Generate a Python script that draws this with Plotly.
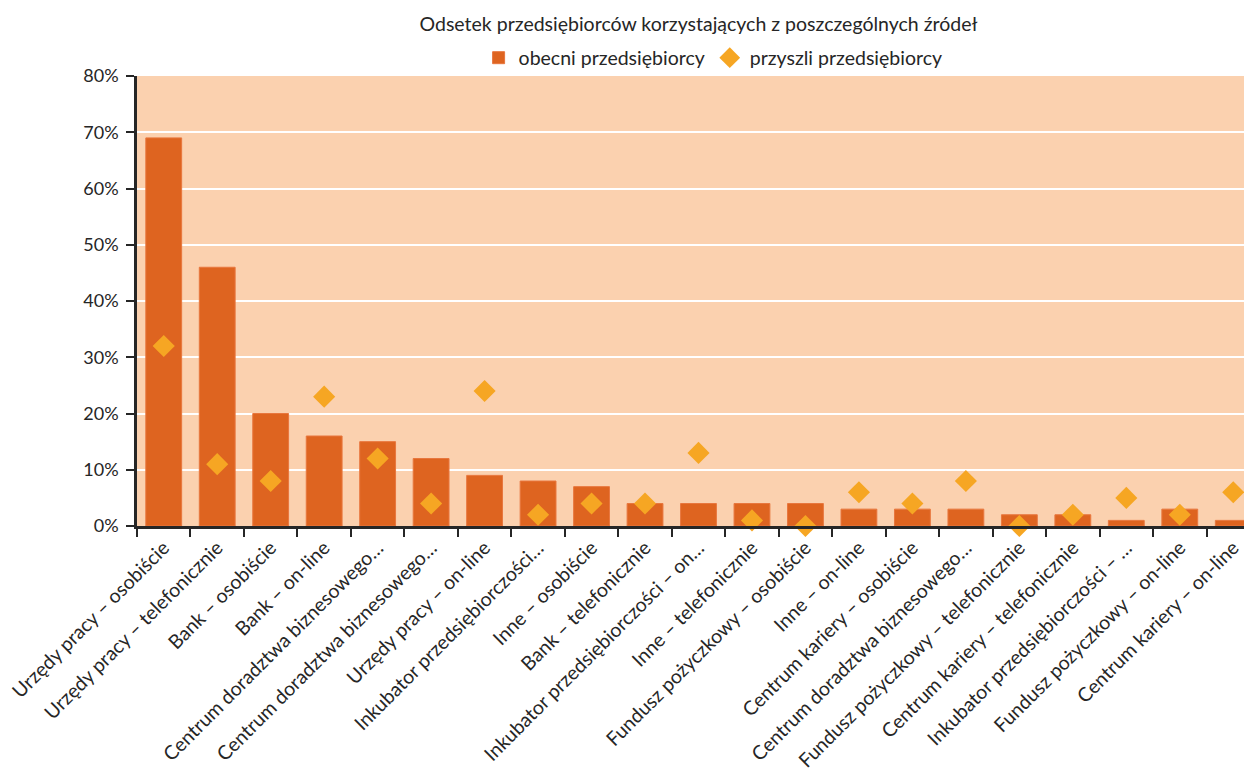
import plotly.graph_objects as go

categories = [
    "Urzędy pracy – osobiście",
    "Urzędy pracy – telefonicznie",
    "Bank – osobiście",
    "Bank – on-line",
    "Centrum doradztwa biznesowego…",
    "Centrum doradztwa biznesowego…\u200b",
    "Urzędy pracy – on-line",
    "Inkubator przedsiębiorczości…",
    "Inne – osobiście",
    "Bank – telefonicznie",
    "Inkubator przedsiębiorczości – on…",
    "Inne – telefonicznie",
    "Fundusz pożyczkowy – osobiście",
    "Inne – on-line",
    "Centrum kariery – osobiście",
    "Centrum doradztwa biznesowego…\u200b\u200b",
    "Fundusz pożyczkowy – telefonicznie",
    "Centrum kariery – telefonicznie",
    "Inkubator przedsiębiorczości – …",
    "Fundusz pożyczkowy – on-line",
    "Centrum kariery – on-line",
]
obecni = [0.69, 0.46, 0.20, 0.16, 0.15, 0.12, 0.09, 0.08, 0.07, 0.04, 0.04,
          0.04, 0.04, 0.03, 0.03, 0.03, 0.02, 0.02, 0.01, 0.03, 0.01]
przyszli = [0.32, 0.11, 0.08, 0.23, 0.12, 0.04, 0.24, 0.02, 0.04, 0.04, 0.13,
            0.01, 0.00, 0.06, 0.04, 0.08, 0.00, 0.02, 0.05, 0.02, 0.06]
y_ticks = [0, 0.1, 0.2, 0.3, 0.4, 0.5, 0.6, 0.7, 0.8]

FONT = "Lato"
TXT = "#262626"

fig = go.Figure()
fig.add_trace(go.Bar(
    x=categories, y=obecni, name="obecni przedsiębiorcy",
    marker=dict(color="#DE6420", line=dict(color="#E8773E", width=1)),
))
fig.add_trace(go.Scatter(
    x=categories, y=przyszli, name="przyszli przedsiębiorcy", mode="markers",
    marker=dict(symbol="diamond", size=17, color="#F6A623"),
    cliponaxis=False,
))

fig.update_layout(
    width=1252, height=769,
    margin=dict(l=129, r=0, t=68, b=251, autoexpand=False),
    paper_bgcolor="white",
    plot_bgcolor="#FBD1AF",
    font=dict(family=FONT, size=18, color=TXT),
    bargap=0.33,
    title=dict(
        text="Odsetek przedsiębiorców korzystających z poszczególnych źródeł",
        x=0.5, xref="paper", xanchor="center",
        y=1 - 16 / 769, yref="container", yanchor="middle",
        font=dict(family=FONT, size=19.5, color=TXT),
    ),
    legend=dict(
        orientation="h", x=0.513, xref="paper", xanchor="center",
        y=1 - 50 / 769, yref="container", yanchor="middle",
        font=dict(family=FONT, size=19.5, color=TXT),
        bgcolor="rgba(0,0,0,0)", itemwidth=30,
    ),
    showlegend=True,
)

fig.update_xaxes(
    type="category", range=[-0.5, len(categories) - 0.5],
    tickangle=-45, tickson="boundaries",
    ticks="outside", ticklen=8, tickcolor=TXT, tickwidth=1.5,
    showline=True, linecolor=TXT, linewidth=2.5,
    showgrid=False, automargin=False,
    tickfont=dict(family=FONT, size=19.5, color=TXT),
)
fig.update_yaxes(
    range=[0, 0.8], tickvals=y_ticks, tickformat=".0%",
    ticks="outside", ticklen=8, tickcolor=TXT, tickwidth=1.5,
    showline=True, linecolor=TXT, linewidth=2.5,
    showgrid=True, gridcolor="white", gridwidth=1.5,
    zeroline=False, automargin=False, ticklabelstandoff=4,
    tickfont=dict(family=FONT, size=18, color=TXT),
)

fig.write_html("out.html")
